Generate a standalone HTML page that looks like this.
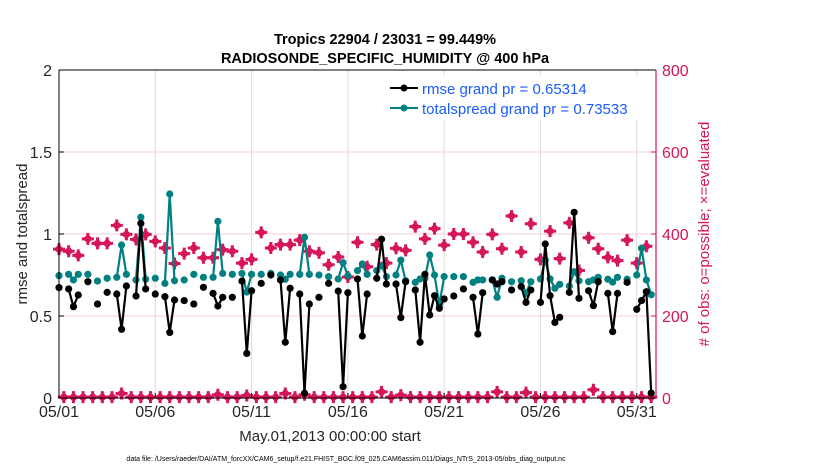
<!DOCTYPE html>
<html><head><meta charset="utf-8">
<style>
body{margin:0;background:#fff;}
svg{display:block;font-family:"Liberation Sans",Arial,sans-serif;}
</style></head>
<body>
<svg id="chart" width="830" height="470" viewBox="0 0 830 470" xmlns="http://www.w3.org/2000/svg">
<rect width="830" height="470" fill="#fff"/>
<g id="grid"></g>
<g id="series"></g>
<g id="axes"></g>
<text x="385" y="44" font-size="14.5" font-weight="bold" text-anchor="middle" fill="#000">Tropics 22904 / 23031 = 99.449%</text>
<text x="385" y="63" font-size="14.5" font-weight="bold" text-anchor="middle" fill="#000">RADIOSONDE_SPECIFIC_HUMIDITY @ 400 hPa</text>
<text x="330" y="441" font-size="15" text-anchor="middle" fill="#262626">May.01,2013 00:00:00 start</text>
<text x="346" y="461" font-size="7" text-anchor="middle" fill="#000">data file: /Users/raeder/DAI/ATM_forcXX/CAM6_setup/f.e21.FHIST_BGC.f09_025.CAM6assim.011/Diags_NTrS_2013-05/obs_diag_output.nc</text>
<text transform="translate(27,234) rotate(-90)" font-size="15" text-anchor="middle" fill="#262626">rmse and totalspread</text>
<text transform="translate(709,234) rotate(-90)" font-size="15" text-anchor="middle" fill="#d6155a"># of obs: o=possible; ×=evaluated</text>
<g>
  <rect x="383" y="76" width="262" height="44" fill="#fff"/>
  <line x1="390" y1="88" x2="418" y2="88" stroke="#000" stroke-width="2"/>
  <circle cx="404" cy="88" r="3.5" fill="#000"/>
  <text x="422" y="94" font-size="15" fill="#1a5cff">rmse grand pr = 0.65314</text>
  <line x1="390" y1="108" x2="418" y2="108" stroke="#008080" stroke-width="2"/>
  <circle cx="404" cy="108" r="3.5" fill="#008080"/>
  <text x="422" y="114" font-size="15" fill="#1a5cff">totalspread grand pr = 0.73533</text>
</g>
</svg>
<script>
// 6-hourly slots from 2013-05-01 00Z (index i -> day i/4)
const rmse = [.673,null,.665,.557,.628,null,.709,null,.573,null,.644,null,.634,.419,.683,null,.622,1.065,.665,null,.634,null,.618,.4,.598,null,.594,null,.573,null,.675,null,.638,.561,.614,null,.614,null,.713,.272,.654,null,.699,null,.75,null,.72,.34,.669,null,.634,.029,.573,null,.614,null,.699,null,.652,.069,.642,null,.726,.378,.634,null,.73,.968,.695,null,.695,.49,.709,null,.659,.34,.754,.506,.624,.547,.604,null,.622,null,.665,null,.614,.39,.642,null,.72,.695,.709,null,.659,null,.679,.583,.659,null,.583,.939,.624,.461,.492,null,.644,1.132,.608,null,.654,.563,.709,null,.638,.405,.638,null,.705,null,.541,.594,.648,.03];
const spread = [.746,null,.754,.72,.754,null,.754,null,.713,null,.73,null,.736,.933,.754,null,.72,1.102,.724,null,.73,null,.699,1.244,.715,null,.72,null,.754,null,.736,null,.736,1.077,.76,null,.754,null,.76,.646,.754,null,.754,null,.76,null,.75,.724,.754,null,.754,.98,.754,null,.75,null,.74,null,.726,.825,.746,null,.777,.817,.754,null,.777,.805,.74,null,.75,.841,.715,null,.705,.726,.73,.872,.75,.567,.74,null,.74,null,.74,null,.705,.72,.72,null,.72,.614,.73,null,.709,null,.715,.638,.709,null,.726,.841,.726,.669,.693,null,.683,.77,.715,null,.709,.72,.736,null,.724,.707,.736,null,.724,null,.75,.913,.72,.63];
const possibleIdx = [0,2,4,6,8,10,12,14,16,18,20,22,24,26,28,30,32,34,36,38,40,42,44,46,48,50,52,54,56,58,60,62,64,66,68,70,72,74,76,78,80,82,84,86,88,90,92,94,96,98,100,102,104,106,108,110,112,114,116,118,120,122];
const possibleCount = [363,358,348,388,377,377,421,399,387,399,382,366,328,352,366,342,342,362,358,329,338,404,366,374,374,385,358,354,325,344,295,380,320,374,329,365,360,418,388,413,373,400,400,380,356,399,364,444,356,425,338,407,340,427,311,391,364,343,335,385,329,370];
const lowIdx = [1,3,5,7,9,11,13,15,17,19,21,23,25,27,29,31,33,35,37,39,41,43,45,47,49,51,53,55,57,59,61,63,65,67,69,71,73,75,77,79,81,83,85,87,89,91,93,95,97,99,101,103,105,107,109,111,113,115,117,119,121,123];
const lowCount = [2,2,2,2,2,2,11,2,2,2,2,2,2,2,2,2,8,2,2,6,2,2,2,11,2,8,2,2,2,2,2,2,2,15,2,7,2,2,2,2,2,2,2,2,2,15,2,2,13,2,2,2,2,2,2,20,2,2,2,2,2,2];
const leftTicks = [0,0.5,1,1.5,2];
const leftTickLabels = ["0","0.5","1","1.5","2"];
const rightTicks = [0,200,400,600,800];
const xTickDays = [0,5,10,15,20,25,30];
const xTickLabels = ["05/01","05/06","05/11","05/16","05/21","05/26","05/31"];

const X0=59,X1=656,Y0=398,Y1=70,DAYS=31;
const xDay=d=>X0+(X1-X0)*d/DAYS;
const xIdx=i=>xDay(i/4);
const yL=v=>Y0-(Y0-Y1)*v/2;
const yR=v=>Y0-(Y0-Y1)*v/800;
const NS="http://www.w3.org/2000/svg";
function mk(tag,attrs,parent){const e=document.createElementNS(NS,tag);for(const k in attrs)e.setAttribute(k,attrs[k]);parent.appendChild(e);return e;}
const grid=document.getElementById('grid'),ser=document.getElementById('series'),ax=document.getElementById('axes');

xTickDays.forEach((d,k)=>{
  const g=mk('line',{x1:xDay(d),x2:xDay(d),y1:Y1,y2:Y0,stroke:'#dcdcdc','stroke-width':1},grid);
  
  
  const t=mk('text',{x:xDay(d),y:417,'font-size':16,'text-anchor':'middle',fill:'#262626'},ax);
  t.textContent=xTickLabels[k];
  
  
  mk('line',{x1:xDay(d),x2:xDay(d),y1:Y0,y2:Y0-5,stroke:'#000'},ax);
});
rightTicks.forEach(v=>{
  if(v>0&&v<800){
    const g=mk('line',{x1:X0,x2:X1,y1:yR(v),y2:yR(v),stroke:'#f6cfdc','stroke-width':1},grid);
    
    
  }
  mk('line',{x1:X1,x2:X1-5,y1:yR(v),y2:yR(v),stroke:'#d6155a'},ax);
  const t=mk('text',{x:X1+6,y:yR(v)+6,'font-size':16,fill:'#d6155a'},ax);
  t.textContent=String(v);
  
  
});
leftTicks.forEach((v,k)=>{
  mk('line',{x1:X0,x2:X0+5,y1:yL(v),y2:yL(v),stroke:'#000'},ax);
  const t=mk('text',{x:X0-7,y:yL(v)+6,'font-size':16,'text-anchor':'end',fill:'#262626'},ax);
  t.textContent=leftTickLabels[k];
  
  
});
const frame=mk('path',{d:`M${X1},${Y1} L${X0},${Y1} L${X0},${Y0} L${X1},${Y0}`,fill:'none',stroke:'#000','stroke-width':1},ax);


const ra=mk('line',{x1:X1,x2:X1,y1:Y1,y2:Y0,stroke:'#d6155a','stroke-width':1.2},ax);



function star(cx,cy,name){
  const g=mk('g',{},ser);
  
  
  mk('polygon',{points:`${cx},${cy-5} ${cx+5},${cy} ${cx},${cy+5} ${cx-5},${cy}`,fill:'#d6155a'},g);
  mk('path',{d:`M${cx},${cy-6} V${cy+6} M${cx-6},${cy} H${cx+6}`,stroke:'#d6155a','stroke-width':3},g);
}
possibleIdx.forEach((i,k)=>star(xIdx(i),yR(possibleCount[k]),'possible-obs-marker'));
lowIdx.forEach((i,k)=>star(xIdx(i),yR(lowCount[k]),'evaluated-obs-marker'));

function drawSeries(arr,color,name){
  let d='';
  for(let i=0;i<arr.length;i++){
    if(arr[i]==null)continue;
    const cmd=(i>0&&arr[i-1]!=null)?'L':'M';
    d+=`${cmd}${xIdx(i).toFixed(1)},${yL(arr[i]).toFixed(1)} `;
  }
  const p=mk('path',{d:d,fill:'none',stroke:color,'stroke-width':2.2,'stroke-linejoin':'round'},ser);
  
  
  arr.forEach((v,i)=>{
    if(v==null)return;
    const c=mk('circle',{cx:xIdx(i),cy:yL(v),r:3.6,fill:color},ser);
    
    
  });
}
drawSeries(spread,'#008080','totalspread');
drawSeries(rmse,'#000000','rmse');
</script>
</body></html>
